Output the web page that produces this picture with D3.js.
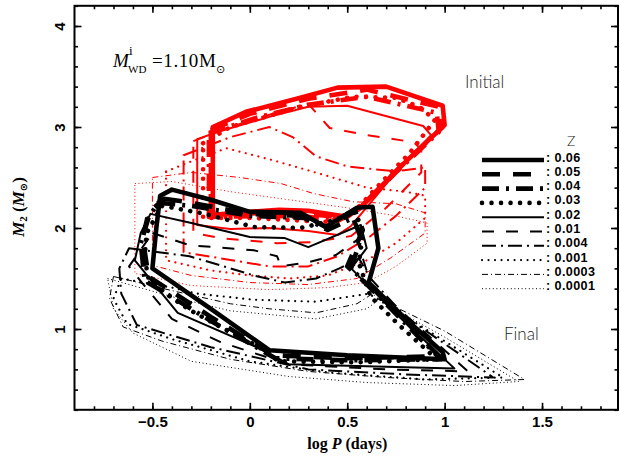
<!DOCTYPE html>
<html>
<head>
<meta charset="utf-8">
<script src="https://cdn.jsdelivr.net/npm/d3@7"></script>
<style>
  body { margin: 0; background: #fff; }
  text { fill: #000; }
  .light { fill: #222; opacity: 0.99; }
</style>
</head>
<body>
<div id="chart"></div>
<script>
// metallicities, legend order
const zLabels = ['0.06', '0.05', '0.04', '0.03', '0.02', '0.01', '0.004', '0.001', '0.0003', '0.0001']

const xTicks = [-0.5, 0, 0.5, 1, 1.5]
const yTicks = [1, 2, 3, 4]

// initial contours (log P, M2), red
const init006 = [[-0.19,3.0],[-0.02,3.15],[0.24,3.28],[0.45,3.39],[0.70,3.40],[0.99,3.21],[1.0,3.02],[0.78,2.62],[0.57,2.21],[0.50,2.11],[0.40,2.14],[0.30,2.17],[0.15,2.18],[0.0,2.16],[-0.19,2.13]]
const init005 = [[-0.20,2.97],[0.0,3.13],[0.3,3.28],[0.6,3.37],[0.97,3.2],[0.99,3.0],[0.77,2.6],[0.56,2.19],[0.48,2.10],[0.30,2.14],[0.1,2.15],[-0.2,2.13]]
const init004 = [[-0.21,2.94],[0.05,3.1],[0.3,3.22],[0.6,3.30],[0.96,3.14],[0.97,2.95],[0.75,2.55],[0.55,2.17],[0.45,2.07],[0.3,2.11],[0.1,2.12],[-0.21,2.11]]
const init003 = [[-0.24,2.84],[-0.1,3.0],[0.26,3.2],[0.53,3.3],[0.75,3.29],[0.87,3.2],[0.95,3.07],[0.82,2.74],[0.68,2.46],[0.54,2.17],[0.4,2.06],[0.2,2.08],[0.0,2.1],[-0.24,2.1]]
const init002 = [[-0.27,2.88],[-0.15,2.96],[0.1,3.1],[0.3,3.2],[0.5,3.21],[0.89,3.01],[0.93,2.92],[0.75,2.55],[0.52,2.02],[0.45,1.93],[0.3,1.97],[0.1,2.0],[-0.1,1.99],[-0.27,2.03]]
const init001 = [[-0.29,2.86],[-0.1,3.0],[0.15,3.15],[0.30,3.23],[0.41,2.99],[0.6,2.92],[0.84,2.85],[0.88,2.78],[0.88,2.55],[0.7,2.2],[0.52,1.92],[0.32,1.86],[0.14,1.85],[-0.15,1.9],[-0.29,1.95]]
const init0004 = [[-0.34,2.72],[-0.1,2.9],[0.1,3.0],[0.22,2.9],[0.34,2.71],[0.5,2.61],[0.75,2.56],[0.9,2.6],[0.9,2.4],[0.75,2.12],[0.62,1.92],[0.45,1.72],[0.3,1.62],[0.1,1.62],[-0.15,1.7],[-0.34,1.76]]
const init0001 = [[-0.43,2.56],[-0.3,2.66],[-0.12,2.79],[0.12,2.67],[0.39,2.52],[0.6,2.4],[0.8,2.36],[0.9,2.32],[0.9,2.1],[0.75,1.85],[0.6,1.68],[0.4,1.53],[0.2,1.5],[0.0,1.53],[-0.2,1.58],[-0.43,1.68]]
const init00003 = [[-0.50,2.5],[-0.3,2.55],[-0.05,2.5],[0.16,2.44],[0.33,2.34],[0.53,2.26],[0.75,2.24],[0.9,2.15],[0.9,1.95],[0.72,1.7],[0.55,1.5],[0.3,1.44],[0.0,1.46],[-0.3,1.53],[-0.5,1.63]]
const init00001 = [[-0.59,2.44],[-0.4,2.46],[-0.1,2.36],[0.2,2.28],[0.5,2.2],[0.75,2.12],[0.91,2.05],[0.91,1.85],[0.75,1.62],[0.6,1.46],[0.4,1.41],[0.1,1.39],[-0.3,1.43],[-0.59,1.55]]

// final contours, black
const fin006 = [[-0.40,2.38],[-0.2,2.28],[0.0,2.16],[0.26,2.15],[0.39,2.01],[0.55,2.20],[0.63,2.21],[0.66,1.80],[0.61,1.46],[0.8,1.1],[0.99,0.77],[1.0,0.70],[0.5,0.74],[0.10,0.79],[-0.2,1.2],[-0.50,1.60],[-0.48,2.0],[-0.46,2.32]]
const fin005 = [[-0.44,2.29],[-0.3,2.25],[0.0,2.14],[0.28,2.12],[0.40,2.0],[0.54,2.17],[0.58,1.98],[0.50,1.62],[0.75,1.18],[0.97,0.73],[0.5,0.71],[0.12,0.74],[-0.2,1.12],[-0.52,1.52],[-0.55,1.9],[-0.52,2.15]]
const fin004 = [[-0.47,2.25],[-0.3,2.22],[0.0,2.12],[0.28,2.1],[0.4,1.98],[0.53,2.1],[0.57,1.9],[0.52,1.6],[0.75,1.15],[0.98,0.70],[0.5,0.69],[0.13,0.71],[-0.2,1.08],[-0.54,1.48],[-0.56,1.85],[-0.52,2.1]]
const fin003 = [[-0.45,2.22],[-0.23,2.14],[0.02,2.01],[0.26,2.0],[0.44,2.08],[0.54,2.18],[0.58,1.95],[0.56,1.65],[0.62,1.32],[0.76,1.05],[0.96,0.70],[0.55,0.67],[0.15,0.68],[0.04,0.83],[-0.15,1.02],[-0.31,1.19],[-0.43,1.35],[-0.52,1.5],[-0.54,1.7],[-0.53,1.95]]
const fin002 = [[-0.51,2.14],[-0.3,2.05],[0.0,1.91],[0.18,1.90],[0.30,1.81],[0.57,2.03],[0.60,1.8],[0.52,1.6],[0.75,1.15],[1.05,0.61],[0.6,0.63],[0.2,0.65],[0.06,0.8],[-0.37,1.16],[-0.59,1.68],[-0.56,1.95]]
const fin001 = [[-0.50,1.95],[-0.31,1.83],[0.02,1.78],[0.14,1.72],[0.16,1.62],[0.30,1.66],[0.44,1.73],[0.55,1.88],[0.58,1.7],[0.62,1.45],[0.85,1.05],[1.12,0.58],[0.7,0.6],[0.2,0.65],[-0.15,0.87],[-0.40,1.1],[-0.55,1.45],[-0.62,1.62]]
const fin0004 = [[-0.62,1.8],[-0.31,1.72],[-0.15,1.63],[0.02,1.53],[0.18,1.46],[0.34,1.50],[0.46,1.60],[0.56,1.70],[0.62,1.5],[0.8,1.12],[1.25,0.52],[0.8,0.55],[0.3,0.6],[-0.2,0.82],[-0.58,1.04],[-0.66,1.35],[-0.67,1.6]]
const fin0001 = [[-0.66,1.5],[-0.4,1.41],[-0.27,1.35],[0.02,1.29],[0.34,1.27],[0.61,1.35],[0.72,1.22],[1.0,0.88],[1.30,0.52],[0.9,0.5],[0.4,0.57],[0.0,0.68],[-0.4,0.9],[-0.63,1.05],[-0.70,1.3]]
const fin00003 = [[-0.70,1.52],[-0.4,1.38],[-0.1,1.25],[0.1,1.2],[0.34,1.16],[0.55,1.25],[0.63,1.35],[0.66,1.3],[1.0,0.98],[1.41,0.50],[1.1,0.48],[0.7,0.52],[0.3,0.58],[-0.1,0.7],[-0.45,0.88],[-0.65,1.02],[-0.72,1.3]]
const fin00001 = [[-0.73,1.50],[-0.4,1.32],[-0.1,1.18],[0.34,1.10],[0.6,1.2],[0.67,1.3],[0.72,1.22],[1.0,0.92],[1.38,0.48],[1.05,0.44],[0.6,0.47],[0.2,0.53],[-0.3,0.68],[-0.6,0.96],[-0.7,1.2]]

const initial = [init006, init005, init004, init003, init002, init001, init0004, init0001, init00003, init00001]
const final = [fin006, fin005, fin004, fin003, fin002, fin001, fin0004, fin0001, fin00003, fin00001]

// line style per metallicity
const styles = [
    { w: 4.6, dash: null },
    { w: 4.6, dash: '18,13' },
    { w: 4.6, dash: '17,7,3,7' },
    { w: 4.6, dash: '0.01,9.5', cap: 'round' },
    { w: 2, dash: null },
    { w: 2, dash: '12,12' },
    { w: 2, dash: '14,5,2,5' },
    { w: 2.2, dash: '0.01,6.5', cap: 'round' },
    { w: 1, dash: '6,3,1,3' },
    { w: 1, dash: '1,2.6' }
]

const w = 620, h = 460
const pLeft = 74.5, pRight = 618, pTop = 5.8, pBottom = 409.8

const xScale = d3.scaleLinear().domain([-0.9, 1.89]).range([pLeft, pRight])
const yScale = d3.scaleLinear().domain([0.2, 4.2]).range([pBottom, pTop])

const svg = d3.select('#chart')
    .append('svg')
    .attr('width', w)
    .attr('height', h)

const line = d3.line()
    .x(d => xScale(d[0]))
    .y(d => yScale(d[1]))
    .curve(d3.curveLinearClosed)

function drawSet(sets, color) {
    // thin ones first so the thick curves sit on top
    for (let i = sets.length - 1; i >= 0; i--) {
        const s = styles[i]
        svg.append('path')
            .attr('d', line(sets[i]))
            .attr('fill', 'none')
            .attr('stroke', color)
            .attr('stroke-width', s.w)
            .attr('stroke-dasharray', s.dash)
            .attr('stroke-linecap', s.cap || 'butt')
            .attr('stroke-linejoin', 'round')
    }
}

drawSet(initial, '#ff0000')
drawSet(final, '#000')

// axes: ticks point inward on all four sides
const xMinor = d3.range(-8, 19).map(v => v / 10)
const yMinor = d3.range(2, 43, 2).map(v => v / 10)
const fmt = d3.format('')

function cleanAxis(g) {
    g.select('.domain').remove()
    g.selectAll('line').attr('stroke', '#000').attr('stroke-width', 1.6)
}

svg.append('g')
    .attr('transform', 'translate(0,' + pBottom + ')')
    .call(d3.axisBottom(xScale).tickValues(xMinor).tickSize(-3.5).tickFormat(''))
    .call(cleanAxis)
svg.append('g')
    .attr('transform', 'translate(0,' + pBottom + ')')
    .call(d3.axisBottom(xScale).tickValues(xTicks).tickSize(-7).tickPadding(7).tickFormat(fmt))
    .call(cleanAxis)
    .selectAll('text')
    .attr('font-family', 'Liberation Sans, Arial, sans-serif')
    .attr('font-weight', 'bold')
    .attr('font-size', 15)

svg.append('g')
    .attr('transform', 'translate(0,' + pTop + ')')
    .call(d3.axisTop(xScale).tickValues(xMinor).tickSize(-3.5).tickFormat(''))
    .call(cleanAxis)
svg.append('g')
    .attr('transform', 'translate(0,' + pTop + ')')
    .call(d3.axisTop(xScale).tickValues(xTicks).tickSize(-7).tickFormat(''))
    .call(cleanAxis)

svg.append('g')
    .attr('transform', 'translate(' + pLeft + ',0)')
    .call(d3.axisLeft(yScale).tickValues(yMinor).tickSize(-3.5).tickFormat(''))
    .call(cleanAxis)
svg.append('g')
    .attr('transform', 'translate(' + pLeft + ',0)')
    .call(d3.axisLeft(yScale).tickValues(yTicks).tickSize(-7).tickFormat(fmt))
    .call(cleanAxis)
    .selectAll('text')
    .attr('font-family', 'Liberation Sans, Arial, sans-serif')
    .attr('font-weight', 'bold')
    .attr('font-size', 15)
    .attr('transform', 'rotate(-90)')
    .attr('x', 0)
    .attr('y', -10)
    .attr('dy', 0)
    .attr('text-anchor', 'middle')

svg.append('g')
    .attr('transform', 'translate(' + pRight + ',0)')
    .call(d3.axisRight(yScale).tickValues(yMinor).tickSize(-3.5).tickFormat(''))
    .call(cleanAxis)
svg.append('g')
    .attr('transform', 'translate(' + pRight + ',0)')
    .call(d3.axisRight(yScale).tickValues(yTicks).tickSize(-7).tickFormat(''))
    .call(cleanAxis)

// frame
svg.append('rect')
    .attr('x', pLeft).attr('y', pTop)
    .attr('width', pRight - pLeft).attr('height', pBottom - pTop)
    .attr('fill', 'none')
    .attr('stroke', '#000')
    .attr('stroke-width', 2)

// axis titles
const xt = svg.append('text')
    .attr('x', xScale(0.5)).attr('y', 449)
    .attr('text-anchor', 'middle')
    .attr('font-family', 'Liberation Serif, serif')
    .attr('font-weight', 'bold')
    .attr('font-size', 16)
xt.append('tspan').text('log ')
xt.append('tspan').attr('font-style', 'italic').text('P')
xt.append('tspan').text(' (days)')

const yt = svg.append('text')
    .attr('transform', 'translate(24,207) rotate(-90)')
    .attr('text-anchor', 'middle')
    .attr('font-family', 'Liberation Serif, serif')
    .attr('font-weight', 'bold')
    .attr('font-size', 17)
yt.append('tspan').attr('font-style', 'italic').text('M')
yt.append('tspan').attr('font-size', 11).attr('dy', 3).text('2')
yt.append('tspan').attr('dy', -3).text(' (')
yt.append('tspan').attr('font-style', 'italic').text('M')
yt.append('tspan').attr('font-size', 10).attr('dy', 3).attr('font-family', 'DejaVu Sans').text('⊙')
yt.append('tspan').attr('dy', -3).text(')')

// annotation M^i_WD = 1.10 Msun
const serif = 'Liberation Serif, DejaVu Serif, serif'
svg.append('text').attr('x', 113).attr('y', 67)
    .attr('font-family', serif).attr('font-style', 'italic').attr('font-size', 19).text('M')
svg.append('text').attr('x', 129).attr('y', 55)
    .attr('font-family', serif).attr('font-size', 13).text('i')
svg.append('text').attr('x', 128).attr('y', 73)
    .attr('font-family', serif).attr('font-size', 11).text('WD')
svg.append('text').attr('x', 152).attr('y', 67)
    .attr('font-family', serif).attr('font-size', 19).attr('letter-spacing', 0.6).text('=1.10M')
svg.append('text').attr('x', 216).attr('y', 73)
    .attr('font-family', 'DejaVu Sans, sans-serif').attr('font-size', 11).text('⊙')

// region labels
const light = 'Lato, Open Sans, sans-serif'
svg.append('text').attr('class', 'light').attr('x', 465).attr('y', 88)
    .attr('font-family', light).attr('font-weight', 300).attr('font-size', 17).text('Initial')
svg.append('text').attr('class', 'light').attr('x', 504).attr('y', 340)
    .attr('font-family', light).attr('font-weight', 300).attr('font-size', 17).text('Final')

// legend
svg.append('text').attr('class', 'light').attr('x', 567).attr('y', 146)
    .attr('font-family', light).attr('font-weight', 300).attr('font-size', 14).text('Z')

const legend = svg.append('g')
zLabels.forEach((lab, i) => {
    const yy = 161.5 + i * 14.3
    const s = styles[i]
    legend.append('line')
        .attr('x1', 482).attr('x2', 544)
        .attr('y1', yy - 1.5).attr('y2', yy - 1.5)
        .attr('stroke', '#000')
        .attr('stroke-width', s.w)
        .attr('stroke-dasharray', s.dash)
        .attr('stroke-linecap', s.cap || 'butt')
    legend.append('text').attr('x', 546).attr('y', yy)
        .attr('font-family', 'Liberation Sans, Arial, sans-serif')
        .attr('font-weight', 'bold').attr('font-size', 12.6)
        .attr('letter-spacing', 0.4)
        .attr('xml:space', 'preserve')
        .text(': ' + lab)
})
</script>
</body>
</html>
